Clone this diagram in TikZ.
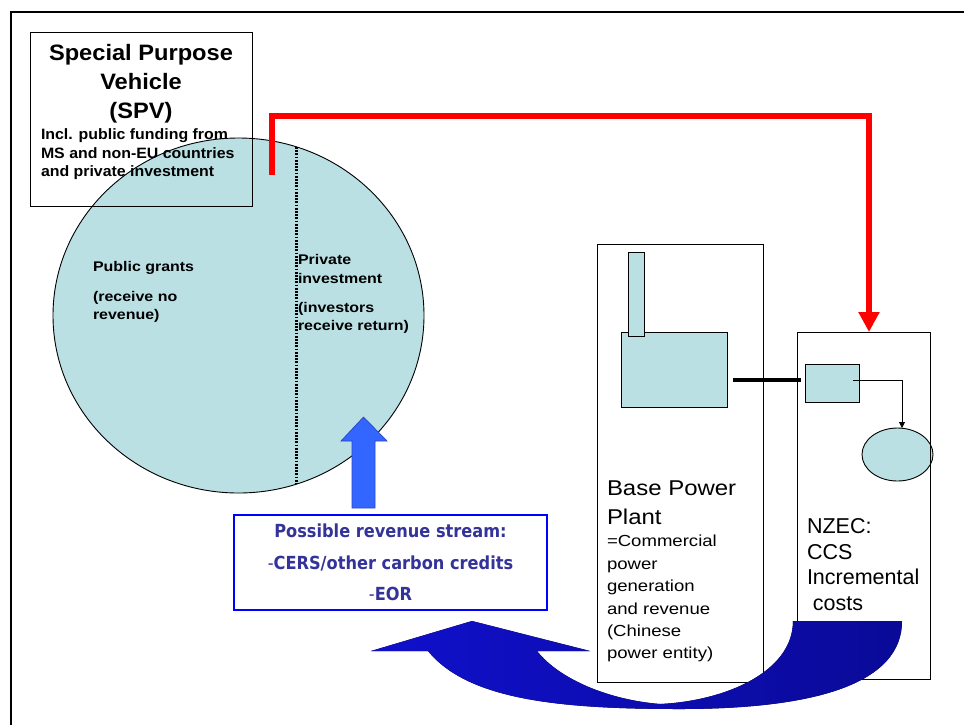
\documentclass[tikz,border=0pt]{standalone}
\usepackage{fontspec}
\setmainfont{Liberation Sans}[FakeStretch=1.12]
\newfontfamily\spvfont{Liberation Sans}[FakeStretch=1.06]
\newfontfamily\circfont{Liberation Sans}[FakeStretch=1.14]
\newfontfamily\descfont{Liberation Sans}[FakeStretch=1.16]
\newfontfamily\nzecfont{Liberation Sans}
\newfontfamily\revfont{DejaVu Sans}[FakeStretch=0.9]
\usetikzlibrary{arrows.meta,shapes.geometric}
\definecolor{lightcyan}{RGB}{186,224,228}
\definecolor{redline}{RGB}{255,0,0}
\definecolor{revblue}{RGB}{51,51,153}
\definecolor{boxblue}{RGB}{0,0,255}
\definecolor{upfill}{RGB}{51,102,255}
\definecolor{upedge}{RGB}{40,70,200}
\definecolor{curveL}{RGB}{16,16,204}
\definecolor{curveR}{RGB}{10,10,152}
\tikzset{
  outerframe/.style={line width=2.5pt, line cap=rect},
  plainbox/.style={draw, line width=0.9pt, inner sep=0pt, outer sep=0pt, anchor=north west},
  cyanshape/.style={draw, fill=lightcyan, line width=0.9pt, inner sep=0pt, outer sep=0pt},
  txt/.style={inner sep=0pt, outer sep=0pt},
  redconn/.style={draw=redline, line width=6.5pt, -{Triangle[width=20pt,length=20pt]}},
  thinconn/.style={draw, line width=0.8pt, -{Triangle[width=6pt,length=6pt]}},
  thickconn/.style={draw, line width=3.5pt},
  dotline/.style={draw, line width=3pt, dash pattern=on 1.8pt off 1.4pt},
  upblock/.style={fill=upfill, draw=upedge, line width=0.7pt},
  curveblock/.style={left color=curveL, right color=curveR, draw=none},
}
\begin{document}
\begin{tikzpicture}[x=1pt,y=-1pt]
\useasboundingbox (0,0) rectangle (964,724);
\fill[white] (0,0) rectangle (964,724);

% outer frame
\coordinate (fa) at (11,724);
\coordinate (fb) at (11,12);
\coordinate (fc) at (964,12);
\draw[outerframe] (fa) -- (fb) -- (fc);

% funding circle
\node[ellipse, cyanshape, minimum width=371pt, minimum height=355pt] (fund) at (238.5,315.5) {};
\coordinate (d1) at (296,147);
\coordinate (d2) at (296,484);
\draw[dotline] (d1) -- (d2);

% SPV box
\node[plainbox, minimum width=222pt, minimum height=174pt] (spv) at (30,32) {};
\node[txt, anchor=north, align=center, font=\spvfont\bfseries\fontsize{22.3}{29}\selectfont] (spvtitle) at (141,44.7) {Special Purpose\\Vehicle\\(SPV)};
\node[txt, anchor=north west, align=left, font=\spvfont\bfseries\fontsize{15}{18.5}\selectfont] (spvsub) at (41,129) {Incl. public funding from\\MS and non-EU countries\\and private investment};

% circle texts
\node[txt, anchor=north west, align=left, font=\circfont\bfseries\fontsize{14}{18}\selectfont] (pub) at (93,261.8) {Public grants\\[12pt](receive no\\revenue)};
\node[txt, anchor=north west, align=left, font=\circfont\bfseries\fontsize{14}{18.5}\selectfont] (priv) at (298,254.8) {Private\\investment\\[10.5pt](investors\\receive return)};

% red connector
\coordinate (r0) at (272,175);
\coordinate (r1) at (869,116);

% base power plant
\node[plainbox, minimum width=166pt, minimum height=438pt] (base) at (597,244) {};
\node[cyanshape, anchor=north west, minimum width=106pt, minimum height=75pt] (boiler) at (621,332) {};
\node[cyanshape, anchor=north west, minimum width=16pt, minimum height=84pt] (chimney) at (628,252) {};
\node[txt, anchor=north west, align=left, font=\fontsize{21.4}{29}\selectfont] (basetitle) at (607,480.7) {Base Power\\Plant};
\node[txt, anchor=north west, align=left, font=\descfont\fontsize{16}{22.4}\selectfont] (basedesc) at (607,535.3) {=Commercial\\power\\generation\\and revenue\\(Chinese\\power entity)};

% NZEC
\node[cyanshape, ellipse, minimum width=71pt, minimum height=53pt] (store) at (897.5,454.5) {};
\node[plainbox, minimum width=133pt, minimum height=347pt] (nzec) at (797,332) {};
\node[cyanshape, anchor=north west, minimum width=54pt, minimum height=38pt] (capunit) at (805,364) {};
\node[txt, anchor=north west, align=left, font=\nzecfont\fontsize{21.5}{25.5}\selectfont] (nzectext) at (807,518.6) {NZEC:\\CCS\\Incremental\\\ costs};

\draw[redconn] (r0) |- (r1) -- (r1 |- nzec.north);

\coordinate (k1) at (733,380);
\coordinate (k2) at (801,380);
\draw[thickconn] (k1) -- (k2);
\coordinate (c1) at (853,380);
\draw[thinconn] (c1) -| ([xshift=4.5pt]store.north);

% revenue box
\node[draw=boxblue, line width=2.5pt, inner sep=0pt, outer sep=0pt, anchor=north west, minimum width=313pt, minimum height=95pt] (rev) at (234,515) {};
\node[txt, anchor=north, align=center, text=revblue, font=\revfont\bfseries\fontsize{18}{31.5}\selectfont] (revtext) at (390.5,524.3) {Possible revenue stream:\\{\mdseries -}CERS/other carbon credits\\{\mdseries -}EOR};

% up block arrow from revenue box to circle
\coordinate (ua) at (352,508);
\draw[upblock] (ua) -- ++(0,-67) -- ++(-11,0) -- ++(22.5,-24) -- ++(23.5,24) -- ++(-12,0) -- ++(0,67) -- cycle;

% curved block arrow from NZEC back to revenue
\coordinate (cv0) at (793,621);
\fill[curveblock] (cv0) .. controls (793,672) and (725,701) .. (660,704)
  .. controls (610,700) and (560,680) .. (537,651)
  -- (590,651) -- (472,621) -- (371,651) -- (428,651)
  .. controls (468,700) and (560,709) .. (680,709)
  .. controls (820,709) and (902,682) .. (902,621) -- cycle;
\end{tikzpicture}
\end{document}
